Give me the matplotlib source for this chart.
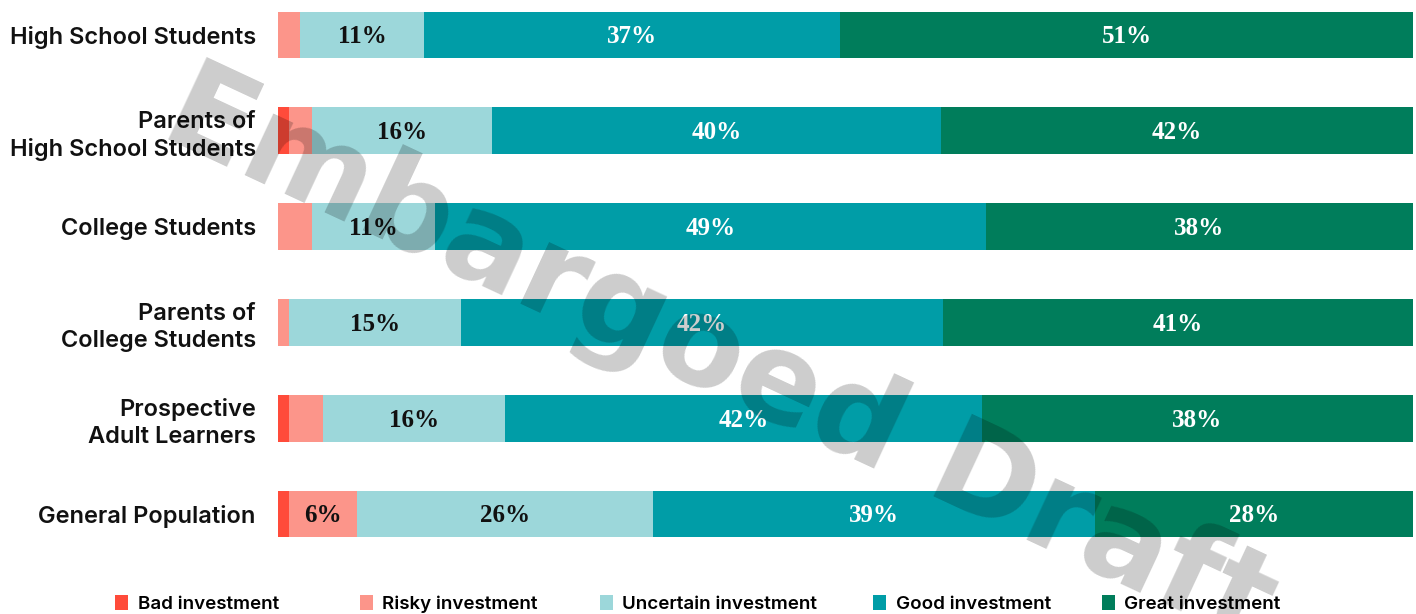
import matplotlib
matplotlib.use("Agg")
import matplotlib.pyplot as plt
from matplotlib.patches import Patch
import numpy as np

# groups, top to bottom
groups = ["High School Students", "Parents of\nHigh School Students", "College Students",
          "Parents of\nCollege Students", "Prospective\nAdult Learners", "General Population"]
bad = [0, 1, 0, 0, 1, 1]
risky = [2, 2, 3, 1, 3, 6]
uncertain = [11, 16, 11, 15, 16, 26]
good = [37, 40, 49, 42, 42, 39]
great = [51, 42, 38, 41, 38, 28]

series = ["Bad investment", "Risky investment", "Uncertain investment", "Good investment", "Great investment"]
colors = ["#FF4B3A", "#FC958A", "#9CD7DA", "#009DA7", "#007D5B"]
text_colors = ["#111111", "#111111", "#111111", "white", "white"]

vals = np.array([bad, risky, uncertain, good, great], dtype=float)
shares = vals / vals.sum(axis=0) * 100  # rows don't sum to exactly 100 after rounding

W, H = 1416, 614
fig = plt.figure(figsize=(W / 100, H / 100), dpi=100)
ax = fig.add_axes([278 / W, 1 - 560 / H, 1135 / W, 555 / H])

y = np.arange(len(groups))
left = np.zeros(len(groups))
for k in range(len(series)):
    ax.barh(y, shares[k], left=left, height=0.49, color=colors[k], label=series[k])
    for i in range(len(groups)):
        if vals[k, i] >= 5:
            ax.text(left[i] + shares[k, i] / 2, y[i] + 0.02, f"{int(vals[k, i])}%", ha="center", va="center",
                    fontsize=18, fontweight="bold", family="Liberation Serif", color=text_colors[k])
    left += shares[k]

ax.set_xlim(0, 100)
ax.set_ylim(5.48, -0.313)
ax.set_yticks(y)
ax.set_yticklabels(groups, fontsize=17, fontweight="semibold", family="Inter", color="#111111",
                   linespacing=1.3)
ax.tick_params(axis="y", length=0, pad=16)
ax.set_xticks([])
for s in ax.spines.values():
    s.set_visible(False)

# legend entries sit at fixed columns like the original layout
leg_x = [115, 360, 600, 873, 1102]
for c, name, px in zip(colors, series, leg_x):
    fig.legend([Patch(facecolor=c, edgecolor="none")], [name], loc="center left",
               bbox_to_anchor=(px / W, 0.016), frameon=False, borderpad=0, borderaxespad=0,
               prop={"family": "Inter", "weight": "semibold", "size": 13.5},
               handlelength=0.7, handleheight=0.85, handletextpad=0.5)

# watermark
fig.text(0.508, 0.415, "Embargoed Draft", rotation=-25, ha="center", va="center",
         fontsize=90, fontweight="bold", family="DejaVu Sans", color="black", alpha=0.2,
         rotation_mode="anchor")

fig.savefig("out.png", dpi=100)
